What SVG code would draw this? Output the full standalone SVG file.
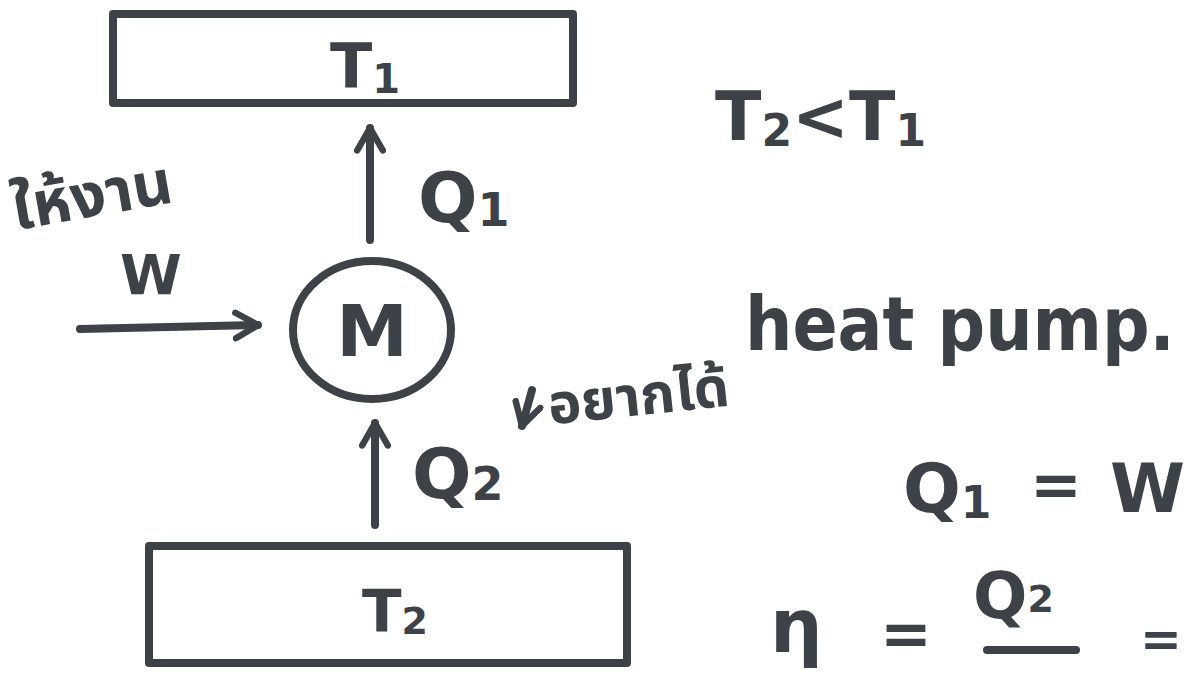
<svg xmlns="http://www.w3.org/2000/svg" width="1189" height="675" viewBox="0 0 1189 675">
<defs>
<style>
.ln{fill:none;stroke:#3c4247;stroke-width:8;stroke-linecap:round;stroke-linejoin:round}
.tx{fill:#3c4247;font-family:"DejaVu Sans","Noto Sans",sans-serif;font-weight:bold}
.hp{fill:#3c4247;font-family:"DejaVu Sans Condensed","DejaVu Sans",sans-serif;font-weight:bold;font-stretch:condensed}
.th{fill:#3c4247;font-family:"Noto Sans Thai","Noto Sans","DejaVu Sans",sans-serif;font-weight:bold}
</style>
<marker id="ah" viewBox="0 0 10 10" refX="8" refY="5" markerWidth="4" markerHeight="4" orient="auto" markerUnits="strokeWidth">
<path d="M1,1 L8,5 L1,9" fill="none" stroke="#3c4247" stroke-width="2" stroke-linecap="round" stroke-linejoin="round"/>
</marker>
</defs>
<rect width="1189" height="675" fill="#ffffff"/>
<g id="T1">
<rect class="ln" x="113" y="14" width="460" height="89"/>
<text class="tx" x="365" y="88" font-size="62" text-anchor="middle">T<tspan font-size="40" dy="5">1</tspan></text>
</g>
<g id="T2">
<rect class="ln" x="149" y="546" width="478" height="117"/>
<text class="tx" x="395" y="632" font-size="58" text-anchor="middle">T<tspan font-size="38" dy="2">2</tspan></text>
</g>
<g id="M">
<ellipse class="ln" cx="372" cy="330" rx="79" ry="69"/>
<text class="tx" x="372" y="356" font-size="72" text-anchor="middle">M</text>
</g>
<g id="connectors">
<line class="ln" x1="370" y1="240" x2="370" y2="128" marker-end="url(#ah)"/>
<line class="ln" x1="375" y1="525" x2="375" y2="423" marker-end="url(#ah)"/>
<line class="ln" x1="80" y1="329" x2="258" y2="325" marker-end="url(#ah)"/>
<line class="ln" x1="532" y1="390" x2="522" y2="426" marker-end="url(#ah)"/>
</g>
<g id="labels">
<text class="tx" x="418" y="222" font-size="70">Q<tspan font-size="46" dy="4">1</tspan></text>
<text class="tx" x="412" y="498" font-size="70">Q<tspan font-size="46" dy="2">2</tspan></text>
<text class="th" x="10" y="215" font-size="62" transform="rotate(-10 100 190)">ให้งาน</text>
<text class="tx" x="120" y="294" font-size="56">W</text>
<text class="th" x="548" y="414" font-size="56" transform="rotate(-6 650 400)">อยากได้</text>
<text class="tx" x="715" y="140" font-size="68">T<tspan font-size="44" dy="6">2</tspan><tspan dy="-6">&lt;</tspan>T<tspan font-size="44" dy="6">1</tspan></text>
<text class="hp" x="745" y="350" font-size="74">heat pump.</text>
<text class="tx" x="903" y="512" font-size="68">Q<tspan font-size="44" dy="6">1</tspan></text>
<text class="tx" x="1030" y="506" font-size="62">=</text>
<text class="tx" x="1110" y="512" font-size="68">W</text>
<text class="tx" x="770" y="652" font-size="74">η</text>
<text class="tx" x="880" y="655" font-size="62">=</text>
<text class="tx" x="973" y="618" font-size="64">Q<tspan font-size="38" dy="-6">2</tspan></text>
<line class="ln" x1="987" y1="650" x2="1076" y2="650"/>
<text class="tx" x="1140" y="656" font-size="50">=</text>
</g>
</svg>
